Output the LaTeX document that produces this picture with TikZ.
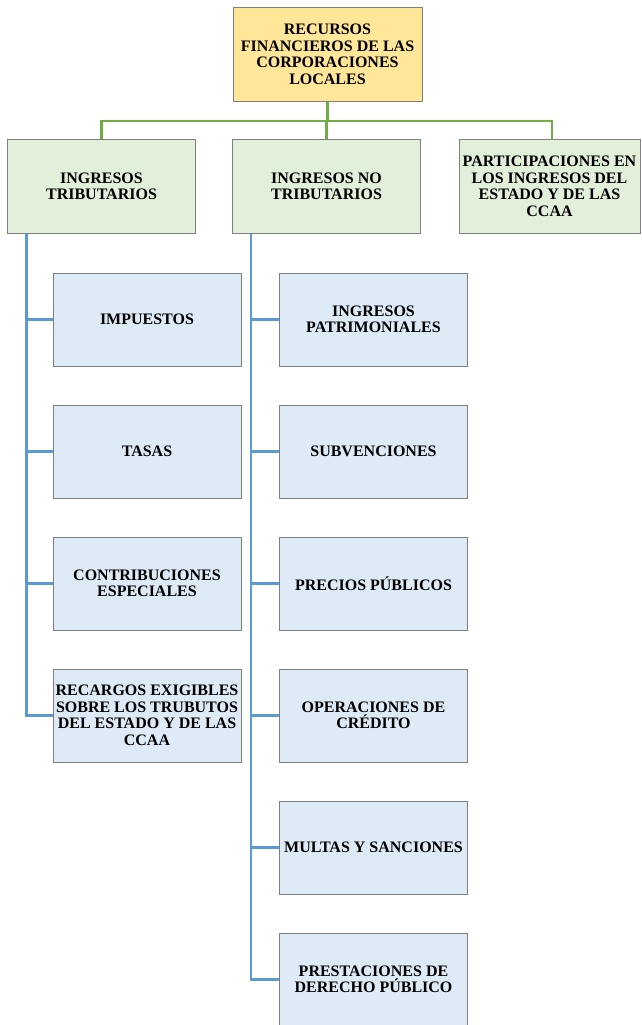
\documentclass[tikz,border=0pt]{standalone}
\usepackage{fontspec}
\setmainfont{Liberation Serif}
\usetikzlibrary{calc}
\definecolor{rootfill}{HTML}{FFE699}
\definecolor{greenfill}{HTML}{E2EFDA}
\definecolor{bluefill}{HTML}{DEEBF7}
\definecolor{boxline}{HTML}{7F7F7F}
\definecolor{greenline}{HTML}{70AD47}
\definecolor{blueline}{HTML}{5B9BD5}
\begin{document}
\begin{tikzpicture}[x=1pt,y=-1pt,
  box/.style={draw=boxline, line width=1pt, minimum width=188pt, minimum height=93pt,
    inner sep=0pt, align=center, font=\bfseries\fontsize{16}{16.5}\selectfont},
  rootbox/.style={box, fill=rootfill},
  gbox/.style={box, fill=greenfill},
  bbox/.style={box, fill=bluefill},
  gline/.style={draw=greenline, line width=2.5pt},
  bline/.style={draw=blueline, line width=2.5pt}]
\useasboundingbox (0,0) rectangle (641,1025);
% root
\node[rootbox, minimum width=189pt, minimum height=94pt] (root) at (327.5,54.5) {RECURSOS\\FINANCIEROS DE LAS\\CORPORACIONES\\LOCALES};
% level 1
\node[gbox, minimum height=94pt] (t1) at (101.5,186.5) {INGRESOS\\TRIBUTARIOS};
\node[gbox, minimum height=94pt] (t2) at (326.5,186.5) {INGRESOS NO\\TRIBUTARIOS};
\node[gbox, minimum height=94pt, minimum width=181pt] (t3) at (549.5,186.5) {PARTICIPACIONES EN\\LOS INGRESOS DEL\\ESTADO Y DE LAS\\CCAA};
% green connectors
\coordinate (j) at (327.5,121);
\draw[gline] (root.south) -- (j);
\draw[gline] (j) -| (t1.north);
\draw[gline] (j) -| (t2.north);
\draw[gline] (j) -| ([xshift=2.5pt]t3.north);
% left children
\node[bbox] (a1) at (147,319.5) {IMPUESTOS};
\node[bbox] (a2) at (147,451.5) {TASAS};
\node[bbox] (a3) at (147,583.5) {CONTRIBUCIONES\\ESPECIALES};
\node[bbox] (a4) at (147,715.5) {RECARGOS EXIGIBLES\\SOBRE LOS TRUBUTOS\\DEL ESTADO Y DE LAS\\CCAA};
% right children
\node[bbox] (b1) at (373.5,319.5) {INGRESOS\\PATRIMONIALES};
\node[bbox] (b2) at (373.5,451.5) {SUBVENCIONES};
\node[bbox] (b3) at (373.5,583.5) {PRECIOS PÚBLICOS};
\node[bbox] (b4) at (373.5,715.5) {OPERACIONES DE\\CRÉDITO};
\node[bbox] (b5) at (373.5,847.5) {MULTAS Y SANCIONES};
\node[bbox] (b6) at (373.5,979.5) {PRESTACIONES DE\\DERECHO PÚBLICO};
% blue connectors
\coordinate (l0) at ($(t1.south west)+(19.5,0)$);
\coordinate (r0) at ($(t2.south west)+(19,0)$);
\foreach \c in {a1,a2,a3,a4} \draw[bline] (l0) |- (\c.west);
\foreach \c in {b1,b2,b3,b4,b5,b6} \draw[bline] (r0) |- (\c.west);
\end{tikzpicture}
\end{document}
